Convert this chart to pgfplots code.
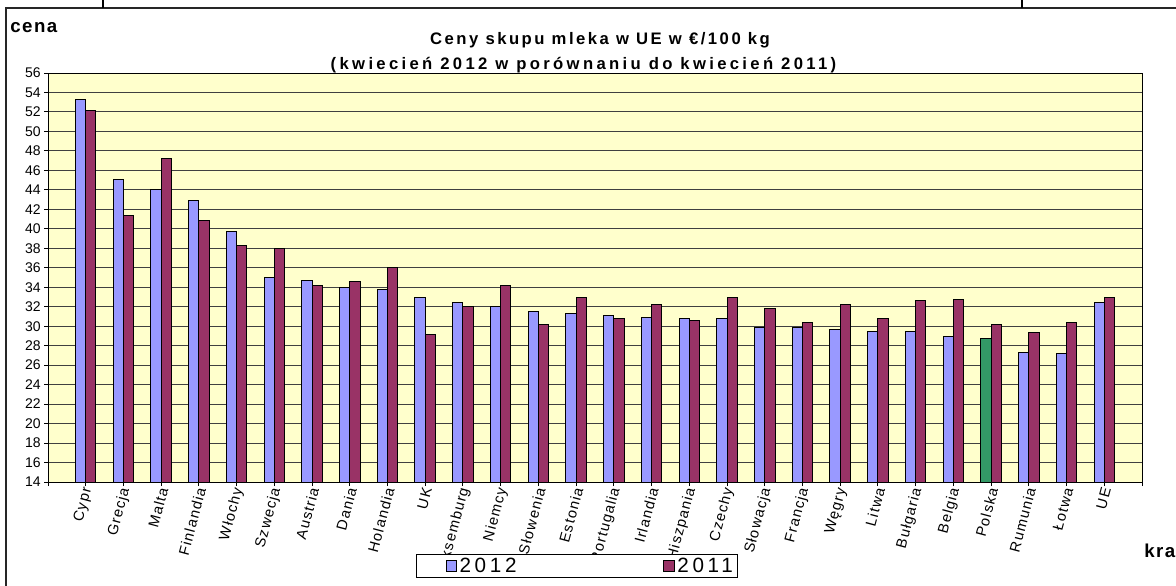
\documentclass[border=0pt]{standalone}
\usepackage{fontspec}
\setmainfont{Liberation Sans}
\newfontfamily\spaced[LetterSpace=8]{Liberation Sans}
\newfontfamily\spacedT[LetterSpace=15]{Liberation Sans}
\newfontfamily\spacedU[LetterSpace=20]{Liberation Sans}
\newfontfamily\spacedL[LetterSpace=18]{Liberation Sans}
\usepackage{pgfplots}
\pgfplotsset{compat=1.18}
\definecolor{cA}{HTML}{9999FF}
\definecolor{cB}{HTML}{993366}
\definecolor{cP}{HTML}{339966}
\definecolor{bgY}{HTML}{FFFFCC}
\begin{document}
\begin{tikzpicture}
\useasboundingbox (0,0) rectangle (882pt,438.75pt);
\draw[line width=1.1pt,black!85] (4.5pt,-1pt) -- (4.5pt,432.75pt) -- (883pt,432.75pt);
\draw[line width=0.9pt] (77.25pt,432.75pt) -- (77.25pt,440pt);
\draw[line width=0.9pt] (766.5pt,432.75pt) -- (766.5pt,440pt);
\node[anchor=base west,inner sep=0pt,font=\spaced\bfseries\fontsize{14}{16}\selectfont] at (7.5pt,414pt) {cena};
\node[anchor=base,inner sep=0pt,font=\spacedT\bfseries\fontsize{12.5}{14}\selectfont] at (450pt,405pt) {Ceny skupu mleka w UE w €/100 kg};
\node[anchor=base,inner sep=0pt,font=\spacedU\bfseries\fontsize{12.5}{14}\selectfont] at (437.6pt,386.5pt) {(kwiecień 2012 w porównaniu do kwiecień 2011)};
\node[anchor=base west,inner sep=0pt,font=\spaced\bfseries\fontsize{14}{16}\selectfont] at (858pt,21pt) {kraj};
\begin{axis}[
  at={(36pt,77.25pt)}, anchor=south west,
  scale only axis, width=820.5pt, height=306.75pt,
  xmin=-1, xmax=28, ymin=14, ymax=56,
  axis background/.style={fill=bgY},
  axis line style={black, line width=0.75pt},
  xtick={-1,...,28},
  xticklabels={{},Cypr,Grecja,Malta,Finlandia,Włochy,Szwecja,Austria,Dania,Holandia,UK,Luksemburg,Niemcy,Słowenia,Estonia,Portugalia,Irlandia,Hiszpania,Czechy,Słowacja,Francja,Węgry,Litwa,Bułgaria,Belgia,Polska,Rumunia,Łotwa,UE,{}},
  ytick={14,16,...,56},
  tick align=outside, tick pos=left,
  major tick length=3pt,
  tick style={black, line width=0.75pt},
  ymajorgrids, grid style={black!75, line width=0.75pt},
  /pgf/number format/assume math mode=true,
  yticklabel style={font=\fontsize{10.5}{12}\selectfont, xshift=1pt},
  xticklabel style={rotate=75, anchor=east, font=\spaced\fontsize{11}{13}\selectfont, inner sep=1pt, yshift=-2pt},
  legend columns=2,
  legend style={at={(axis description cs:0.4835,-0.2054)}, anchor=center, draw=black, fill=white, line width=0.75pt,
    font=\spacedL\fontsize{15.5}{17}\selectfont, inner xsep=1.5pt, inner ysep=0.5pt,
    /tikz/every even column/.append style={column sep=108pt}},
]
\addplot[ybar, bar width=7.7pt, bar shift=-3.85pt, fill=cA, draw=black, line width=0.75pt,
  legend image code/.code={\path (-20.25pt,0pt); \draw[fill=cA,draw=black,line width=0.5pt] (0pt,-4pt) rectangle (8pt,4pt);}]
  coordinates {(0,53.3) (1,45.1) (2,44.0) (3,42.9) (4,39.7) (5,35.0) (6,34.7) (7,34.0) (8,33.8) (9,32.9)
  (10,32.4) (11,32.05) (12,31.55) (13,31.3) (14,31.1) (15,30.9) (16,30.8) (17,30.8) (18,29.85) (19,29.85)
  (20,29.65) (21,29.45) (22,29.45) (23,28.95) (25,27.3) (26,27.15) (27,32.4)};
\addlegendentry{2012}
\addplot[ybar, bar width=7.7pt, bar shift=3.85pt, fill=cB, draw=black, line width=0.75pt,
  legend image code/.code={\draw[fill=cB,draw=black,line width=0.5pt] (0pt,-4pt) rectangle (8pt,4pt);}]
  coordinates {(0,52.2) (1,41.4) (2,47.2) (3,40.9) (4,38.3) (5,38.0) (6,34.2) (7,34.6) (8,36.0) (9,29.1)
  (10,32.05) (11,34.2) (12,30.2) (13,32.95) (14,30.8) (15,32.25) (16,30.6) (17,32.95) (18,31.8) (19,30.4)
  (20,32.25) (21,30.8) (22,32.6) (23,32.75) (24,30.2) (25,29.35) (26,30.4) (27,32.95)};
\addlegendentry{2011}
\addplot[ybar, bar width=7.7pt, bar shift=-3.85pt, fill=cP, draw=black, line width=0.75pt, forget plot]
  coordinates {(24,28.75)};
\end{axis}
\end{tikzpicture}
\end{document}
